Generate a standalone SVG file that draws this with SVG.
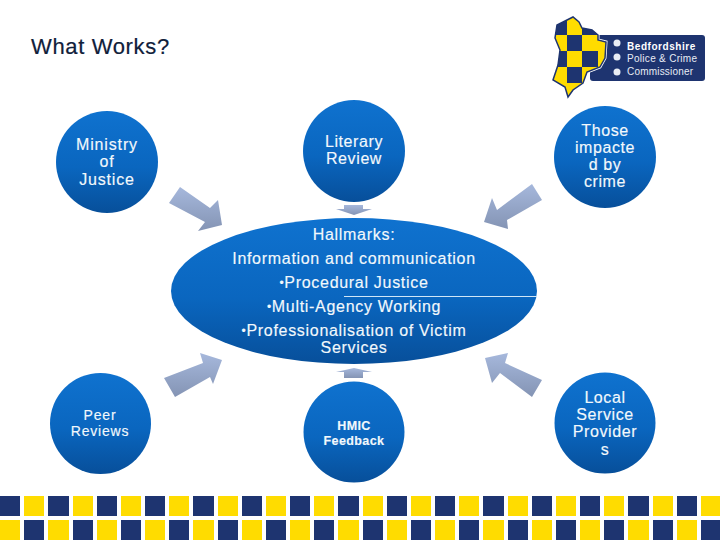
<svg xmlns="http://www.w3.org/2000/svg" xmlns:xlink="http://www.w3.org/1999/xlink" width="720" height="540" viewBox="0 0 720 540">
<style>
text{font-family:"Liberation Sans",Arial,sans-serif}
.w{fill:#f2f8fc;text-anchor:middle;stroke:#f2f8fc;stroke-width:.15}
.t16{font-size:16px;letter-spacing:.6px}
.tm{font-size:16px;letter-spacing:.85px}
.te{font-size:16px;letter-spacing:.7px}
.t14{font-size:14px;letter-spacing:.8px}
.t12{font-size:12.5px;letter-spacing:.4px;font-weight:bold}
.b{font-size:12px}
.node{fill:url(#blue)}
.arrow{fill:url(#steel)}
.n{fill:#1e3470}.y{fill:#ffdc00}
</style>
<defs>
<linearGradient id="blue" x1="0" y1="0" x2="0" y2="1"><stop offset="0" stop-color="#0f72cf"/><stop offset=".55" stop-color="#0a66bf"/><stop offset="1" stop-color="#074f9a"/></linearGradient>
<linearGradient id="steel" x1="0" y1="0" x2="0" y2="1"><stop offset="0" stop-color="#a6b8dc"/><stop offset="1" stop-color="#8494b4"/></linearGradient>
<clipPath id="map"><path d="M567 20 L573 17 L579 22 L582 28 L592 30 L598 35 L598 40 L606 42 L605 58 L600 67 L587 72 L583 83 L573 90 L568 97 L565 87 L553 80 L558 65 L560 50 L555 38 L557 25 Z"/></clipPath>
</defs>
<rect width="720" height="540" fill="#fff"/>
<text x="31" y="54" font-size="22" letter-spacing=".65" fill="#10203a" stroke="#10203a" stroke-width=".2">What Works?</text>
<g id="logo">
<rect x="590" y="35" width="115" height="46" rx="3" class="n"/>
<path d="M567 20 L573 17 L579 22 L582 28 L592 30 L598 35 L598 40 L606 42 L605 58 L600 67 L587 72 L583 83 L573 90 L568 97 L565 87 L553 80 L558 65 L560 50 L555 38 L557 25 Z" fill="none" stroke="#fff" stroke-width="3"/>
<path d="M567 20 L573 17 L579 22 L582 28 L592 30 L598 35 L598 40 L606 42 L605 58 L600 67 L587 72 L583 83 L573 90 L568 97 L565 87 L553 80 L558 65 L560 50 L555 38 L557 25 Z" class="y" stroke="#1e3470" stroke-width="1.500"/>
<g clip-path="url(#map)">
<rect x="552" y="15" width="15" height="20" class="n"/>
<rect x="582" y="15" width="16" height="20" class="n"/>
<rect x="567" y="35" width="15" height="16" class="n"/>
<rect x="552" y="51" width="15" height="16" class="n"/>
<rect x="582" y="51" width="16" height="16" class="n"/>
<rect x="567" y="67" width="15" height="16" class="n"/>
</g>
<g fill="#e8ecf4"><circle cx="617" cy="43" r="3.500"/><circle cx="617" cy="57" r="3.500"/><circle cx="617" cy="72" r="3.500"/></g>
<text x="627" y="50" font-size="10" font-weight="bold" letter-spacing=".55" fill="#fff">Bedfordshire</text>
<text x="627" y="62" font-size="10" letter-spacing=".3" fill="#e8ecf4">Police &amp; Crime</text>
<text x="627" y="75" font-size="10" letter-spacing=".2" fill="#e8ecf4">Commissioner</text>
</g>
<g id="connectors">
<polygon class="arrow" points="180,187 210,208 218,200 222,225 198,231 205,222 169,203"/>
<polygon class="arrow" points="532,184 542,200 507,220 508,229 484,222 492,198 497,210"/>
<polygon class="arrow" points="164,378 175,397 210,377 213,384 222,360 200,353 203,363"/>
<polygon class="arrow" points="542,380 532,397 500,373 492,383 485,358 508,353 505,363"/>
<polygon class="arrow" points="344,205 363,205 363,209 372,209 354,215 336,209 344,209"/>
<polygon class="arrow" points="344,378 363,378 363,372 372,372 354,368 336,372 344,372"/>
</g>
<g id="hallmarks">
<ellipse class="node" cx="354" cy="291" rx="183" ry="73"/>
<line x1="344" y1="296.500" x2="537" y2="296.500" stroke="#cfe6f7"/>
<g class="w te">
<text x="354" y="240">Hallmarks:</text>
<text x="354" y="264">Information and communication</text>
<text x="354" y="288"><tspan class="b" dy="-1">•</tspan><tspan dy="1">Procedural Justice</tspan></text>
<text x="354" y="312"><tspan class="b" dy="-1">•</tspan><tspan dy="1">Multi-Agency Working</tspan></text>
<text x="354" y="336"><tspan class="b" dy="-1">•</tspan><tspan dy="1">Professionalisation of Victim</tspan></text>
<text x="354" y="353">Services</text>
</g>
</g>
<g id="ministry"><circle class="node" cx="107" cy="162" r="51"/><g class="w tm"><text x="107" y="150">Ministry</text><text x="107" y="167">of</text><text x="107" y="185">Justice</text></g></g>
<g id="literary"><circle class="node" cx="354" cy="151" r="51"/><g class="w t16"><text x="354" y="147">Literary</text><text x="354" y="164">Review</text></g></g>
<g id="impacted"><circle class="node" cx="605" cy="157" r="51"/><g class="w t16"><text x="605" y="136">Those</text><text x="605" y="153">impacte</text><text x="605" y="170">d by</text><text x="605" y="187">crime</text></g></g>
<g id="peer"><circle class="node" cx="100.500" cy="423.500" r="50.500"/><g class="w t14"><text x="100" y="420">Peer</text><text x="100" y="436">Reviews</text></g></g>
<g id="hmic"><circle class="node" cx="354" cy="432" r="50.500"/><g class="w t12"><text x="354" y="430">HMIC</text><text x="354" y="445">Feedback</text></g></g>
<g id="local"><circle class="node" cx="605" cy="423" r="50.500"/><g class="w t16"><text x="605" y="403">Local</text><text x="605" y="420">Service</text><text x="605" y="437">Provider</text><text x="605" y="455">s</text></g></g>
<g id="band">
<g class="n"><rect x="0" y="496" width="20" height="20"/><rect x="48" y="496" width="21" height="20"/><rect x="97" y="496" width="20" height="20"/><rect x="145" y="496" width="20" height="20"/><rect x="193" y="496" width="21" height="20"/><rect x="242" y="496" width="20" height="20"/><rect x="290" y="496" width="20" height="20"/><rect x="338" y="496" width="21" height="20"/><rect x="387" y="496" width="20" height="20"/><rect x="435" y="496" width="20" height="20"/><rect x="483" y="496" width="21" height="20"/><rect x="532" y="496" width="20" height="20"/><rect x="580" y="496" width="20" height="20"/><rect x="628" y="496" width="21" height="20"/><rect x="677" y="496" width="20" height="20"/>
<rect x="24" y="520" width="20" height="20"/><rect x="73" y="520" width="20" height="20"/><rect x="121" y="520" width="20" height="20"/><rect x="169" y="520" width="20" height="20"/><rect x="218" y="520" width="20" height="20"/><rect x="266" y="520" width="20" height="20"/><rect x="314" y="520" width="20" height="20"/><rect x="363" y="520" width="20" height="20"/><rect x="411" y="520" width="20" height="20"/><rect x="459" y="520" width="20" height="20"/><rect x="508" y="520" width="20" height="20"/><rect x="556" y="520" width="20" height="20"/><rect x="604" y="520" width="20" height="20"/><rect x="653" y="520" width="20" height="20"/><rect x="701" y="520" width="19" height="20"/></g>
<g class="y"><rect x="24" y="496" width="20" height="20"/><rect x="73" y="496" width="20" height="20"/><rect x="121" y="496" width="20" height="20"/><rect x="169" y="496" width="20" height="20"/><rect x="218" y="496" width="20" height="20"/><rect x="266" y="496" width="20" height="20"/><rect x="314" y="496" width="20" height="20"/><rect x="363" y="496" width="20" height="20"/><rect x="411" y="496" width="20" height="20"/><rect x="459" y="496" width="20" height="20"/><rect x="508" y="496" width="20" height="20"/><rect x="556" y="496" width="20" height="20"/><rect x="604" y="496" width="20" height="20"/><rect x="653" y="496" width="20" height="20"/><rect x="701" y="496" width="19" height="20"/>
<rect x="0" y="520" width="20" height="20"/><rect x="48" y="520" width="21" height="20"/><rect x="97" y="520" width="20" height="20"/><rect x="145" y="520" width="20" height="20"/><rect x="193" y="520" width="21" height="20"/><rect x="242" y="520" width="20" height="20"/><rect x="290" y="520" width="20" height="20"/><rect x="338" y="520" width="21" height="20"/><rect x="387" y="520" width="20" height="20"/><rect x="435" y="520" width="20" height="20"/><rect x="483" y="520" width="21" height="20"/><rect x="532" y="520" width="20" height="20"/><rect x="580" y="520" width="20" height="20"/><rect x="628" y="520" width="21" height="20"/><rect x="677" y="520" width="20" height="20"/></g>
</g>
</svg>
